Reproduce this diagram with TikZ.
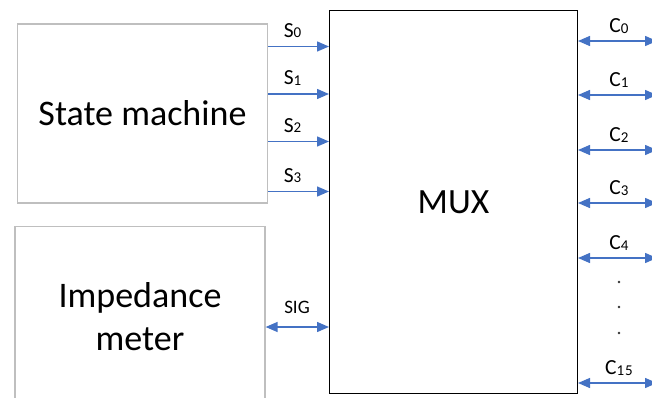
\documentclass[tikz,border=0pt]{standalone}
\usepackage{fontspec}
\setmainfont{Carlito}
\usetikzlibrary{arrows.meta}
\definecolor{arrowblue}{HTML}{4472C4}
\definecolor{boxgray}{HTML}{BFBFBF}
\newcommand\lsub[1]{{\fontsize{15}{14}\selectfont\addfontfeatures{LetterSpace=6}\raisebox{-0.6pt}{#1}}}
\begin{document}
\begin{tikzpicture}[x=1pt,y=-1pt,
 graybox/.style={draw=boxgray,line width=1.2pt,inner sep=0pt,fill=white,font=\fontsize{36}{43}\selectfont,align=center},
 muxbox/.style={draw=black,line width=1pt,inner sep=0pt,font=\fontsize{35.5}{43}\selectfont},
 sig/.style={draw=arrowblue,line width=1.4pt,-{Triangle[length=12pt,width=10pt]}},
 bisig/.style={draw=arrowblue,line width=1.4pt,{Triangle[length=12pt,width=10pt]}-{Triangle[length=12pt,width=10pt]}},
 lbl/.style={font=\fontsize{21.5}{20}\selectfont,inner sep=0pt},
 dot/.style={fill=black!80}]
\useasboundingbox (0,0) rectangle (652,398);
\clip (0,0) rectangle (652,398);
\node[graybox,minimum width=250pt,minimum height=179pt] (sm) at (142.5,113.5) {State machine};
\node[graybox,minimum width=250pt,minimum height=180pt,anchor=north] (im) at (140,226) {Impedance\\meter};
\node[muxbox,minimum width=248pt,minimum height=383pt] (mux) at (453.5,202) {MUX};
% S arrows
\foreach \i/\y in {0/46.5,1/94,2/141.5,3/191.5}{
  \coordinate (s\i) at (300,\y);
  \draw[sig] (sm.east |- s\i) -- (mux.west |- s\i);
  \node[lbl] (sl\i) at (292.5,\y-16) {S\lsub{\i}};
}
% SIG
\coordinate (sg) at (300,327);
\draw[bisig] (im.east |- sg) -- (mux.west |- sg);
\node[lbl,font=\fontsize{19}{19}\selectfont] (sgl) at (297,307) {SIG};
% C arrows
\foreach \i/\y in {0/41,1/95,2/150,3/203,4/258,15/383}{
  \coordinate (c\i) at (657,\y);
  \draw[bisig] (mux.east |- c\i) -- (c\i);
  \node[lbl] (cl\i) at (619,\y-15) {C\lsub{\i}};
}
\foreach \y in {282,307,333}{
  \fill[dot] (619,\y) circle (1.3pt);
}
\end{tikzpicture}
\end{document}
